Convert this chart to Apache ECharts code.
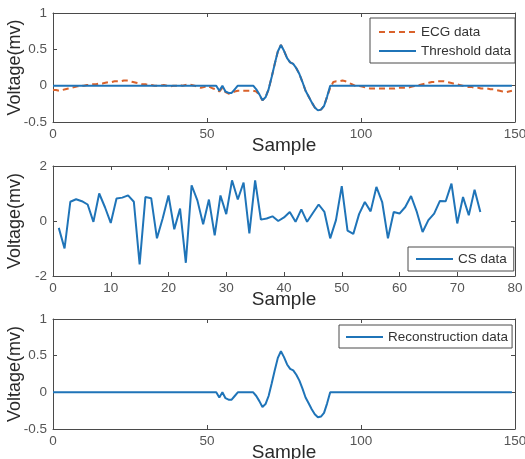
<!DOCTYPE html>
<html><head><meta charset="utf-8">
<script src="https://cdn.jsdelivr.net/npm/echarts@6/dist/echarts.min.js"></script>
<style>html,body{margin:0;padding:0;background:#fff}#c{width:525px;height:459px}</style>
</head><body><div id="c"></div><script>
// ECG data (samples 0..149)
const ecgValues = [
 -0.06,-0.06,-0.07,-0.06,-0.05,-0.04,-0.03,-0.02,-0.01,0.0,
 0.0,0.01,0.01,0.02,0.02,0.03,0.03,0.04,0.05,0.05,
 0.06,0.06,0.06,0.07,0.07,0.06,0.05,0.04,0.03,0.02,
 0.02,0.01,0.01,0.0,0.0,0.0,0.01,0.0,-0.01,0.0,
 0.0,0.01,0.0,0.01,0.02,0.01,0.0,-0.02,-0.03,-0.02,
 0.0,-0.02,-0.04,-0.05,-0.08,-0.03,-0.09,-0.11,-0.1,-0.08,
 -0.07,-0.07,-0.07,-0.07,-0.07,-0.07,-0.08,-0.13,-0.2,-0.16,
 -0.05,0.12,0.3,0.47,0.56,0.48,0.38,0.32,0.3,0.24,
 0.16,0.05,-0.07,-0.15,-0.23,-0.3,-0.34,-0.33,-0.28,-0.15,
 -0.03,0.05,0.06,0.06,0.07,0.06,0.04,0.02,0.0,0.0,
 -0.01,-0.02,-0.03,-0.04,-0.04,-0.04,-0.04,-0.04,-0.04,-0.04,
 -0.04,-0.04,-0.03,-0.03,-0.03,-0.03,-0.02,-0.01,0.0,0.01,
 0.02,0.03,0.04,0.05,0.05,0.06,0.06,0.06,0.05,0.04,
 0.03,0.02,0.01,0.0,-0.01,-0.02,-0.02,-0.03,-0.03,-0.04,
 -0.04,-0.04,-0.05,-0.05,-0.06,-0.07,-0.08,-0.09,-0.08,-0.07
];
// Threshold data (samples 0..149)
const thresholdValues = [
 0,0,0,0,0,0,0,0,0,0,
 0,0,0,0,0,0,0,0,0,0,
 0,0,0,0,0,0,0,0,0,0,
 0,0,0,0,0,0,0,0,0,0,
 0,0,0,0,0,0,0,0,0,0,
 0,0,0,0,-0.07,0,-0.08,-0.1,-0.1,-0.05,
 0,0,0,0,0,0,-0.05,-0.12,-0.2,-0.16,
 -0.05,0.12,0.3,0.47,0.56,0.48,0.38,0.32,0.3,0.24,
 0.16,0.05,-0.07,-0.15,-0.23,-0.3,-0.34,-0.33,-0.28,-0.15,
 0,0,0,0,0,0,0,0,0,0,
 0,0,0,0,0,0,0,0,0,0,
 0,0,0,0,0,0,0,0,0,0,
 0,0,0,0,0,0,0,0,0,0,
 0,0,0,0,0,0,0,0,0,0,
 0,0,0,0,0,0,0,0,0,0
];
// CS data (samples 1..74)
const csValues = [
 -0.25,-1.0,0.7,0.79,0.72,0.6,-0.03,1.0,0.5,-0.07,
 0.82,0.85,0.93,0.7,-1.58,0.87,0.83,-0.63,0.1,0.93,
 -0.3,0.45,-1.52,1.3,0.75,-0.12,0.78,-0.52,0.93,0.25,
 1.48,0.78,1.4,-0.45,1.48,0.05,0.09,0.17,0.0,0.13,
 0.33,-0.03,0.42,-0.03,0.29,0.6,0.33,-0.63,0.03,1.27,
 -0.35,-0.47,0.25,0.69,0.35,1.24,0.69,-0.63,0.33,0.27,
 0.51,0.91,0.33,-0.4,0.03,0.27,0.73,0.72,1.36,-0.09,
 0.87,0.21,1.14,0.33
];
// Reconstruction data (samples 0..149)
const reconValues = [
 0,0,0,0,0,0,0,0,0,0,
 0,0,0,0,0,0,0,0,0,0,
 0,0,0,0,0,0,0,0,0,0,
 0,0,0,0,0,0,0,0,0,0,
 0,0,0,0,0,0,0,0,0,0,
 0,0,0,0,-0.07,0,-0.08,-0.1,-0.1,-0.05,
 0,0,0,0,0,0,-0.05,-0.12,-0.2,-0.16,
 -0.05,0.12,0.3,0.47,0.56,0.48,0.38,0.32,0.3,0.24,
 0.16,0.05,-0.07,-0.15,-0.23,-0.3,-0.34,-0.33,-0.28,-0.15,
 0,0,0,0,0,0,0,0,0,0,
 0,0,0,0,0,0,0,0,0,0,
 0,0,0,0,0,0,0,0,0,0,
 0,0,0,0,0,0,0,0,0,0,
 0,0,0,0,0,0,0,0,0,0,
 0,0,0,0,0,0,0,0,0,0
];
const seriesNames = ['ECG data','Threshold data','CS data','Reconstruction data'];
const xLabel = 'Sample';
const yLabel = 'Voltage(mv)';

const FONT = '"Liberation Sans", Arial, sans-serif';
const BLUE = '#1f74b8';
const ORANGE = '#d9622b';
const AX = '#4a4a4a';

const grids = [
  {left:53, top:13, width:462, height:109, outerBoundsMode:'none', containLabel:false},
  {left:53, top:166, width:462, height:110, outerBoundsMode:'none', containLabel:false},
  {left:53, top:319, width:462, height:110, outerBoundsMode:'none', containLabel:false}
];
const xRanges = [{min:0,max:150,interval:50},{min:0,max:80,interval:10},{min:0,max:150,interval:50}];
const yRanges = [{min:-0.5,max:1,interval:0.5},{min:-2,max:2,interval:2},{min:-0.5,max:1,interval:0.5}];

const lineOpt = {show:true, onZero:false, lineStyle:{color:AX, width:1}};
const tickOpt = {show:true, inside:true, length:4, lineStyle:{color:AX}};
const xAxes = [], yAxes = [];
grids.forEach((g,i)=>{
  xAxes.push({type:'value', gridIndex:i, position:'bottom', ...xRanges[i],
    name:xLabel, nameLocation:'middle', nameGap:14, nameMoveOverlap:false,
    nameTextStyle:{fontFamily:FONT, fontSize:19, color:'#2a2a2a'},
    axisLine:lineOpt, axisTick:tickOpt,
    axisLabel:{show:true, margin:5, fontFamily:FONT, fontSize:13.5, color:'#555'},
    splitLine:{show:false}});
  xAxes.push({type:'value', gridIndex:i, position:'top', ...xRanges[i],
    axisLine:lineOpt, axisTick:tickOpt,
    axisLabel:{show:false}, splitLine:{show:false}});
  yAxes.push({type:'value', gridIndex:i, position:'left', ...yRanges[i],
    name:yLabel, nameLocation:'middle', nameGap:29, nameRotate:90, nameMoveOverlap:false,
    nameTextStyle:{fontFamily:FONT, fontSize:18, color:'#2a2a2a'},
    axisLine:lineOpt, axisTick:tickOpt,
    axisLabel:{show:true, margin:6, fontFamily:FONT, fontSize:13.5, color:'#555'},
    splitLine:{show:false}});
  yAxes.push({type:'value', gridIndex:i, position:'right', ...yRanges[i],
    axisLine:lineOpt, axisTick:tickOpt,
    axisLabel:{show:false}, splitLine:{show:false}});
});

const legendBase = {orient:'vertical', itemWidth:37, itemHeight:14, itemGap:5,
  borderColor:'#4a4a4a', borderWidth:1, borderRadius:0, backgroundColor:'#fff',
  itemStyle:{opacity:0},
  textStyle:{fontFamily:FONT, fontSize:13.5, color:'#333'}};

const chart = echarts.init(document.getElementById('c'), null, {renderer:'canvas'});
chart.setOption({
  animation:false,
  backgroundColor:'#fff',
  grid: grids,
  xAxis: xAxes,
  yAxis: yAxes,
  legend: [
    {...legendBase, left:370, top:18, padding:[7,4,5,8], data:[seriesNames[0], seriesNames[1]]},
    {...legendBase, left:408, top:247, padding:[5,7,5,7], data:[seriesNames[2]]},
    {...legendBase, left:339, top:325, padding:[5,4,4,6], data:[seriesNames[3]]}
  ],
  series: [
    {name:seriesNames[0], type:'line', xAxisIndex:0, yAxisIndex:0, symbol:'none',
      data: ecgValues.map((v,i)=>[i,v]),
      lineStyle:{color:ORANGE, width:2, type:[6,4]}, itemStyle:{color:ORANGE}},
    {name:seriesNames[1], type:'line', xAxisIndex:0, yAxisIndex:0, symbol:'none',
      data: thresholdValues.map((v,i)=>[i,v]),
      lineStyle:{color:BLUE, width:2}, itemStyle:{color:BLUE}},
    {name:seriesNames[2], type:'line', xAxisIndex:2, yAxisIndex:2, symbol:'none',
      data: csValues.map((v,i)=>[i+1,v]),
      lineStyle:{color:BLUE, width:2}, itemStyle:{color:BLUE}},
    {name:seriesNames[3], type:'line', xAxisIndex:4, yAxisIndex:4, symbol:'none',
      data: reconValues.map((v,i)=>[i,v]),
      lineStyle:{color:BLUE, width:2}, itemStyle:{color:BLUE}}
  ]
});
</script></body></html>
